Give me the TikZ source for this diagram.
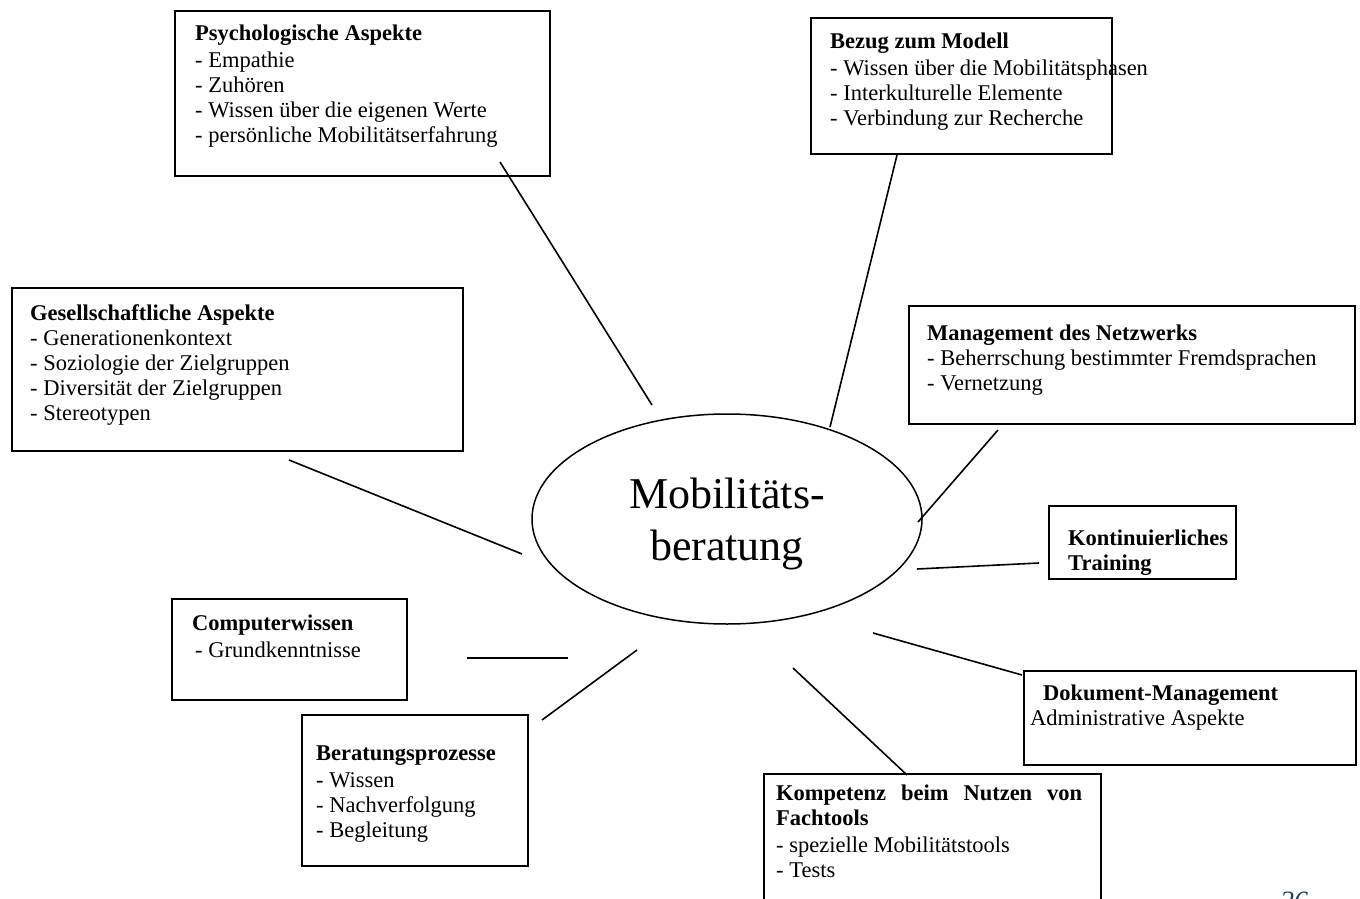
\documentclass[tikz,border=0pt]{standalone}
\usepackage{fontspec}
\setmainfont{Liberation Serif}
\usetikzlibrary{shapes.geometric}
\definecolor{pgnum}{HTML}{1F3A64}
\begin{document}
\begin{tikzpicture}[x=1pt,y=-1pt,
  box/.style={draw, line width=1.9pt, inner sep=0pt, anchor=north west},
  txt/.style={anchor=north west, inner sep=0pt, align=left, font=\fontsize{22.5}{25}\selectfont},
  link/.style={line width=1.6pt},
]
\useasboundingbox (0,0) rectangle (1360,899);

% boxes
\node[box, minimum width=375pt, minimum height=165pt] (bPsych) at (174,10) {};
\node[box, minimum width=301pt, minimum height=136pt] (bBezug) at (810,17) {};
\node[box, minimum width=451pt, minimum height=163pt] (bGes) at (11,287) {};
\node[box, minimum width=446pt, minimum height=118pt] (bMgmt) at (908,305) {};
\node[box, minimum width=187pt, minimum height=73pt] (bKont) at (1048,505) {};
\node[box, minimum width=235pt, minimum height=101pt] (bComp) at (171,598) {};
\node[box, minimum width=226pt, minimum height=151pt] (bBer) at (301,714) {};
\node[box, minimum width=332pt, minimum height=94pt] (bDok) at (1023,670) {};
\node[box, minimum width=337pt, minimum height=200pt] (bKomp) at (763,773) {};

% texts
\node[txt] (tPsych) at (195,23) {\strut\textbf{Psychologische Aspekte}\\[2pt]
 - Empathie\\ - Zuhören\\ - Wissen über die eigenen Werte\\ - persönliche Mobilitätserfahrung};
\node[txt] (tBezug) at (830,31) {\strut\textbf{Bezug zum Modell}\\[2pt]
 - Wissen über die Mobilitätsphasen\\ - Interkulturelle Elemente\\ - Verbindung zur Recherche};
\node[txt] (tGes) at (30,302.5) {\strut\textbf{Gesellschaftliche Aspekte}\\
 - Generationenkontext\\ - Soziologie der Zielgruppen\\ - Diversität der Zielgruppen\\ - Stereotypen};
\node[txt] (tMgmt) at (927,322.5) {\strut\textbf{Management des Netzwerks}\\
 - Beherrschung bestimmter Fremdsprachen\\ - Vernetzung};
\node[txt] (tKont) at (1068,527.5) {\strut\textbf{Kontinuierliches}\\ \textbf{Training}};
\node[txt] (tComp) at (192,612.5) {\strut\textbf{Computerwissen}\\[2pt]\hspace*{3pt}- Grundkenntnisse};
\node[txt] (tBer) at (316,742.5) {\strut\textbf{Beratungsprozesse}\\[2pt]
 - Wissen\\ - Nachverfolgung\\ - Begleitung};
\node[txt] (tDok) at (1030,682.5) {\strut\hspace*{13pt}\textbf{Dokument-Management}\\ Administrative Aspekte};
\node[txt] (tKomp) at (776,782.5) {\strut\hbox to 306pt{\textbf{Kompetenz}\hfill\textbf{beim}\hfill\textbf{Nutzen}\hfill\textbf{von}}\\
 \textbf{Fachtools}\\[2pt] - spezielle Mobilitätstools\\ - Tests};

% central ellipse
\node[ellipse, draw, line width=1.5pt, minimum width=390pt, minimum height=210pt, inner sep=0pt] (ell) at (727,519) {};
\node[anchor=north, inner sep=0pt, align=center, font=\fontsize{44}{52}\selectfont] (ctext) at (727,471.6) {\strut Mobilitäts-\\beratung};

% page number
\node[anchor=base west, inner sep=0pt, font=\fontsize{28}{30}\selectfont\itshape, text=pgnum] (pg) at (1280,910) {26};

% connector end points
\coordinate (psA) at (500,162); \coordinate (psB) at (652,405);
\coordinate (bzA) at (897,155); \coordinate (bzB) at (830,427);
\coordinate (mgA) at (998,430); \coordinate (mgB) at (918,522);
\coordinate (koA) at (917,569); \coordinate (koB) at (1039,563);
\coordinate (dkA) at (873,633); \coordinate (dkB) at (1022,675);
\coordinate (kpA) at (793,668); \coordinate (kpB) at (907,775);
\coordinate (brA) at (637,650); \coordinate (brB) at (542,720);
\coordinate (cpA) at (467,658); \coordinate (cpB) at (568,658);
\coordinate (gsA) at (289,460); \coordinate (gsB) at (522,554);

\draw[link] (psA) -- (psB);
\draw[link] (bzA) -- (bzB);
\draw[link] (mgA) -- (mgB);
\draw[link] (koA) -- (koB);
\draw[link] (dkA) -- (dkB);
\draw[link] (kpA) -- (kpB);
\draw[link] (brA) -- (brB);
\draw[link] (cpA) -- (cpB);
\draw[link] (gsA) -- (gsB);
\end{tikzpicture}
\end{document}
